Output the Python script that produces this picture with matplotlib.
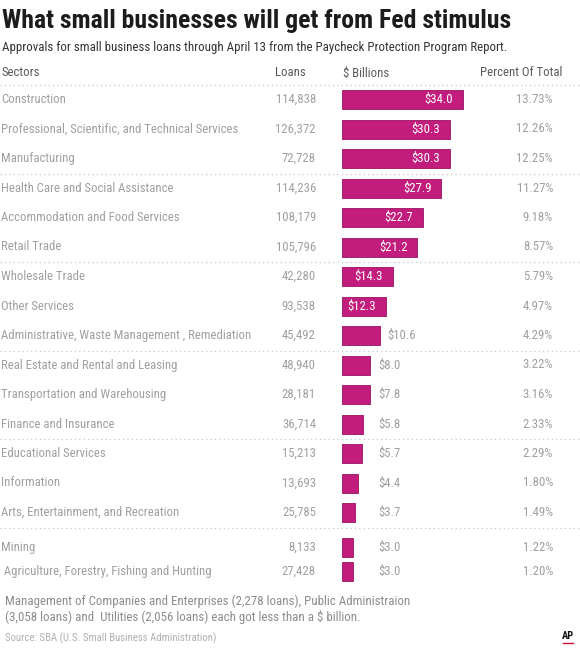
import matplotlib
matplotlib.use("Agg")
import matplotlib.pyplot as plt
from matplotlib import font_manager as fm
from matplotlib.textpath import TextPath
from matplotlib.font_manager import FontProperties

sectors = ["Construction",
           "Professional, Scientific, and Technical Services",
           "Manufacturing",
           "Health Care and Social Assistance",
           "Accommodation and Food Services",
           "Retail Trade",
           "Wholesale Trade",
           "Other Services",
           "Administrative, Waste Management , Remediation",
           "Real Estate and Rental and Leasing",
           "Transportation and Warehousing",
           "Finance and Insurance",
           "Educational Services",
           "Information",
           "Arts, Entertainment, and Recreation",
           "Mining",
           " Agriculture, Forestry, Fishing and Hunting"]
loans = [114838, 126372, 72728, 114236, 108179, 105796, 42280, 93538, 45492,
         48940, 28181, 36714, 15213, 13693, 25785, 8133, 27428]
billions = [34.0, 30.3, 30.3, 27.9, 22.7, 21.2, 14.3, 12.3, 10.6,
            8.0, 7.8, 5.8, 5.7, 4.4, 3.7, 3.0, 3.0]
percent = [13.73, 12.26, 12.25, 11.27, 9.18, 8.57, 5.79, 4.97, 4.29,
           3.22, 3.16, 2.33, 2.29, 1.80, 1.49, 1.22, 1.20]
group_sizes = [3, 3, 3, 3, 3, 2]

title = "What small businesses will get from Fed stimulus"
subtitle = "Approvals for small business loans through April 13 from the Paycheck Protection Program Report."
headers = ["Sectors", "Loans", "$ Billions", "Percent Of Total"]
footnote_lines = ["Management of Companies and Enterprises (2,278 loans), Public Administraion",
                  "(3,058 loans) and  Utilities (2,056 loans) each got less than a $ billion."]
source = "Source: SBA (U.S. Small Business Administration)"

names = {f.name for f in fm.fontManager.ttflist}
NARROW = None
for cand in ["Liberation Sans Narrow", "Arial Narrow", "Roboto Condensed",
             "Open Sans Condensed", "DejaVu Sans Condensed", "Liberation Sans"]:
    if cand in names:
        NARROW = cand
        break
FAM = [NARROW, "DejaVu Sans"]

W, H = 580, 650
DPI = 100


def fit(text, target_px, weight="normal"):
    fp = FontProperties(family=NARROW, weight=weight, size=10)
    tp = TextPath((0, 0), text, prop=fp)
    w_pt = tp.get_extents().width  # in points at size 10
    w_px = w_pt * DPI / 72.0
    return 10 * target_px / w_px


fig = plt.figure(figsize=(W / DPI, H / DPI), dpi=DPI)
ax = fig.add_axes([0, 0, 1, 1])
ax.set_xlim(0, W)
ax.set_ylim(H, 0)
ax.axis("off")

bar_left = 342
px_per_b = 3.56
axb = fig.add_axes([bar_left / W, 0, (W - bar_left) / W, 1])
axb.set_xlim(0, (W - bar_left) / px_per_b)
axb.set_ylim(H, 0)
axb.axis("off")
axb.patch.set_alpha(0)

sep_first = 85
group_h = 88.5
row_h = 29.5
ys = []
seps = [sep_first]
y0 = sep_first
for gi, g in enumerate(group_sizes):
    off = 14.5 if g == 3 else 20
    step = row_h if g == 3 else 24
    for i in range(g):
        ys.append(y0 + off + step * i)
    y0 += group_h
    if len(ys) < len(sectors):
        seps.append(y0)

for s in seps:
    ax.plot([0, W], [s, s], color="#c8c8c8", lw=0.9, ls=(0, (1, 2.5)))

fs_title = fit(title, 507, "bold")
fs_sub = fit(subtitle, 500)
fs_row = fit(sectors[1], 237)
fs_foot = fit(footnote_lines[0], 402)
fs_src = fit(source, 210)

fig.text(2 / W, 1 - 21 / H, title, family=FAM, fontweight="bold", fontsize=fs_title,
         color="#1c1c1c", va="center", ha="left")
fig.text(2 / W, 1 - 47 / H, subtitle, family=FAM, fontsize=fs_sub,
         color="#333333", va="center", ha="left")

hdr_y = 73
hc = "#5a5a5a"
ax.text(2, hdr_y, headers[0], family=FAM, fontsize=fs_row, color=hc, va="center", ha="left")
ax.text(306, hdr_y, headers[1], family=FAM, fontsize=fs_row, color=hc, va="center", ha="right")
ax.text(343, hdr_y, headers[2], family=FAM, fontsize=fs_row, color=hc, va="center", ha="left")
ax.text(562, hdr_y, headers[3], family=FAM, fontsize=fs_row, color=hc, va="center", ha="right")

tc = "#a0a0a0"
bar_color = "#c21c7c"
axb.barh(ys, billions, height=19, left=0, color=bar_color, edgecolor="#9a1262", lw=0.6)

for y, name, ln, b, p in zip(ys, sectors, loans, billions, percent):
    ax.text(1, y, name, family=FAM, fontsize=fs_row, color=tc, va="center", ha="left")
    ax.text(316, y, f"{ln:,}", family=FAM, fontsize=fs_row, color=tc, va="center", ha="right")
    ax.text(553, y, f"{p:.2f}%", family=FAM, fontsize=fs_row, color=tc, va="center", ha="right")
    lab = f"${b:.1f}"
    if b > 12:
        axb.annotate(lab, (b, y), xytext=(-10, 0), textcoords="offset pixels",
                     family=FAM, fontsize=fs_row, color="white", va="center", ha="right")
    else:
        axb.annotate(lab, (max(b + 2.0, 10.1), y), family=FAM, fontsize=fs_row,
                     color=tc, va="center", ha="left")

ax.text(5, 601, footnote_lines[0], family=FAM, fontsize=fs_foot, color="#8c8c8c",
        va="center", ha="left")
ax.text(5, 617, footnote_lines[1], family=FAM, fontsize=fs_foot, color="#8c8c8c",
        va="center", ha="left")
ax.text(5, 638, source, family=FAM, fontsize=fs_src, color="#b0b0b0", va="center", ha="left")
ax.text(568, 636, "AP", family=FAM, fontsize=7.5, fontweight="bold", color="#111111",
        va="center", ha="center")
ax.plot([563, 573], [643, 643], color="#d0103a", lw=1.0)

fig.savefig("out.png", dpi=DPI)
